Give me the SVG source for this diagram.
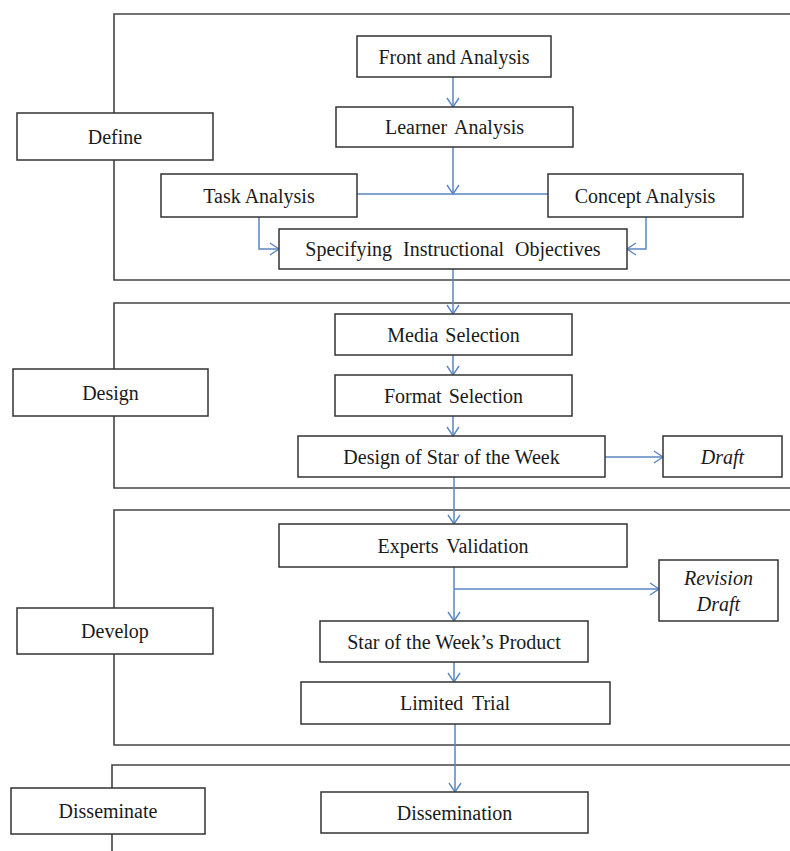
<svg xmlns="http://www.w3.org/2000/svg" width="790" height="851" viewBox="0 0 790 851">
<style>
.frame{fill:none;stroke:#444;stroke-width:1.6}
.box{fill:#fff;stroke:#333;stroke-width:1.5}
.t{font-family:"Liberation Serif","Times New Roman",serif;font-size:20px;fill:#1a1a1a;text-anchor:middle}
.i{font-style:italic}
.c{fill:none;stroke:#5b86bf;stroke-width:1.5}
</style>
<defs>
<marker id="ah" markerUnits="userSpaceOnUse" markerWidth="14" markerHeight="14" viewBox="0 0 14 14" refX="12" refY="7" orient="auto">
<path d="M3,1 L12,7 L3,13" fill="none" stroke="#5b86bf" stroke-width="1.4"/>
</marker>
</defs>
<rect width="790" height="851" fill="#fff"/>
<g id="frames">
<path class="frame" d="M790,14 H114 V280 H790"/>
<path class="frame" d="M790,303 H114 V488 H790"/>
<path class="frame" d="M790,510 H114 V745 H790"/>
<path class="frame" d="M790,765 H112 V851"/>
</g>
<g id="connectors">
<path class="c" d="M453,77 V107" marker-end="url(#ah)"/>
<path class="c" d="M453,147 V194" marker-end="url(#ah)"/>
<path class="c" d="M357,194 H548"/>
<path class="c" d="M259,217 V249 H279" marker-end="url(#ah)"/>
<path class="c" d="M646,217 V249 H627" marker-end="url(#ah)"/>
<path class="c" d="M453,269 V314" marker-end="url(#ah)"/>
<path class="c" d="M453,355 V375" marker-end="url(#ah)"/>
<path class="c" d="M453,416 V436" marker-end="url(#ah)"/>
<path class="c" d="M605,457 H663" marker-end="url(#ah)"/>
<path class="c" d="M454,477 V524" marker-end="url(#ah)"/>
<path class="c" d="M454,567 V621" marker-end="url(#ah)"/>
<path class="c" d="M454,589 H659" marker-end="url(#ah)"/>
<path class="c" d="M454,662 V682" marker-end="url(#ah)"/>
<path class="c" d="M455,724 V792" marker-end="url(#ah)"/>
</g>
<g id="define"><rect class="box" x="17" y="113" width="196" height="47"/><text class="t" x="115" y="143.5">Define</text></g>
<g id="design"><rect class="box" x="13" y="369" width="195" height="47"/><text class="t" x="110.5" y="399.5">Design</text></g>
<g id="develop"><rect class="box" x="17" y="608" width="196" height="46"/><text class="t" x="115" y="638">Develop</text></g>
<g id="disseminate"><rect class="box" x="11" y="788" width="194" height="46"/><text class="t" x="108" y="818">Disseminate</text></g>
<g id="front"><rect class="box" x="357" y="36" width="194" height="41"/><text class="t" x="454" y="63.5">Front and Analysis</text></g>
<g id="learner"><rect class="box" x="336" y="107" width="237" height="40"/><text class="t" x="454.5" y="134" word-spacing="3">Learner Analysis</text></g>
<g id="task"><rect class="box" x="161" y="174" width="196" height="43"/><text class="t" x="259" y="202.5">Task Analysis</text></g>
<g id="concept"><rect class="box" x="548" y="174" width="195" height="43"/><text class="t" x="645" y="202.5">Concept Analysis</text></g>
<g id="specifying"><rect class="box" x="279" y="229" width="348" height="40"/><text class="t" x="453" y="256" word-spacing="6">Specifying Instructional Objectives</text></g>
<g id="media"><rect class="box" x="335" y="314" width="237" height="41"/><text class="t" x="453.5" y="341.5" word-spacing="2">Media Selection</text></g>
<g id="format"><rect class="box" x="335" y="375" width="237" height="41"/><text class="t" x="453.5" y="402.5" word-spacing="2">Format Selection</text></g>
<g id="designstar"><rect class="box" x="298" y="436" width="307" height="41"/><text class="t" x="451.5" y="463.5">Design of Star of the Week</text></g>
<g id="draft"><rect class="box" x="663" y="436" width="119" height="41"/><text class="t i" x="722.5" y="463.5">Draft</text></g>
<g id="experts"><rect class="box" x="279" y="524" width="348" height="43"/><text class="t" x="453" y="552.5" word-spacing="3">Experts Validation</text></g>
<g id="revision"><rect class="box" x="659" y="560" width="119" height="61"/><text class="t i" x="718.5" y="585">Revision</text><text class="t i" x="718.5" y="611">Draft</text></g>
<g id="product"><rect class="box" x="320" y="621" width="268" height="41"/><text class="t" x="454" y="648.5">Star of the Week’s Product</text></g>
<g id="limited"><rect class="box" x="301" y="682" width="309" height="42"/><text class="t" x="455" y="710" word-spacing="4">Limited Trial</text></g>
<g id="dissemination"><rect class="box" x="321" y="792" width="267" height="41"/><text class="t" x="454.5" y="819.5">Dissemination</text></g>
</svg>
